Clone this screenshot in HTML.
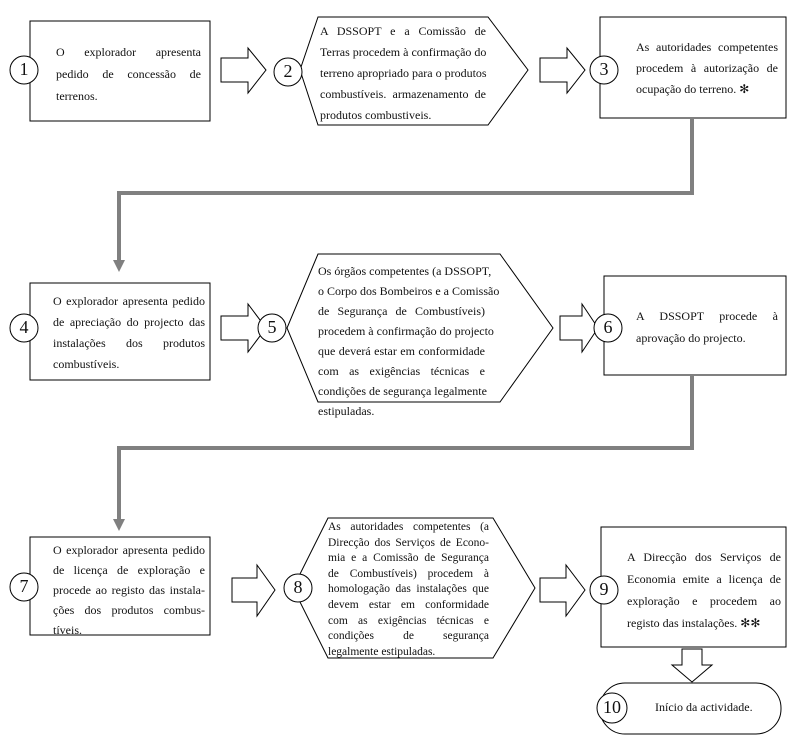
<!DOCTYPE html>
<html><head><meta charset="utf-8"><style>
html,body{margin:0;padding:0;background:#fff;}
body{width:803px;height:738px;position:relative;overflow:hidden;font-family:"Liberation Serif","Times New Roman",Times,serif;font-size:12px;color:#111;}
svg{position:absolute;left:0;top:0;}
.t{position:absolute;}
.t div{white-space:nowrap;text-align:justify;text-align-last:justify;}
.t div.l{text-align-last:left;}
.n{position:absolute;font-size:18px;text-align:center;width:30px;}
</style></head><body>
<svg width="803" height="738" viewBox="0 0 803 738">
<g fill="#fff" stroke="#000" stroke-width="1">
<rect x="30" y="21" width="180" height="100"/>
<polygon points="318,17 488,17 528,70 488,125 318,125 300,70"/>
<rect x="600" y="17" width="186" height="101"/>
<polygon points="221,58 248,58 248,48 266,70 248,93 248,82 221,82"/>
<polygon points="540,58 567,58 567,48 585,70 567,93 567,82 540,82"/>
<rect x="30" y="283" width="180" height="97"/>
<polygon points="318,254 500,254 553,328 500,402 318,402 287,328"/>
<rect x="604" y="276" width="182" height="99"/>
<polygon points="221,316 248,316 248,304 266,328 248,352 248,340 221,340"/>
<polygon points="560,316 582,316 582,304 598,328 582,352 582,340 560,340"/>
<rect x="30" y="537" width="180" height="98"/>
<polygon points="328,518 493,518 535,588 493,658 328,658 293,588"/>
<rect x="601" y="527" width="185" height="120"/>
<polygon points="232,578 257,578 257,565 275,590 257,616 257,602 232,602"/>
<polygon points="540,578 566,578 566,565 585,590 566,616 566,602 540,602"/>
<polygon points="682,649 702,649 702,665 712,665 692,682 672,665 682,665"/>
<rect x="600" y="683" width="181" height="51" rx="25" ry="25"/>
<circle cx="24" cy="70" r="14"/>
<circle cx="288" cy="72" r="14"/>
<circle cx="604" cy="70" r="14"/>
<circle cx="24" cy="328" r="14"/>
<circle cx="272" cy="328" r="14"/>
<circle cx="608" cy="328" r="14"/>
<circle cx="24" cy="587" r="14"/>
<circle cx="298" cy="588" r="14"/>
<circle cx="604" cy="590" r="14"/>
<circle cx="612" cy="708" r="15"/>
</g>
<g fill="none" stroke="#808080" stroke-width="4">
<polyline points="692,118 692,193 119,193 119,262"/>
<polyline points="692,375 692,448 119,448 119,521"/>
</g>
<g fill="#808080">
<polygon points="113,260 125,260 119,272"/>
<polygon points="113,519 125,519 119,531"/>
</g>
</svg>
<div class="n" style="left:9px;top:59px">1</div>
<div class="n" style="left:273px;top:61px">2</div>
<div class="n" style="left:589px;top:59px">3</div>
<div class="n" style="left:9px;top:317px">4</div>
<div class="n" style="left:257px;top:317px">5</div>
<div class="n" style="left:593px;top:317px">6</div>
<div class="n" style="left:9px;top:576px">7</div>
<div class="n" style="left:283px;top:577px">8</div>
<div class="n" style="left:589px;top:579px">9</div>
<div class="n" style="left:597px;top:697px">10</div>

<div class="t" style="left:56px;top:41px;width:145px;line-height:22px">
<div>O explorador apresenta</div><div>pedido de concessão de</div><div class="l">terrenos.</div></div>
<div class="t" style="left:320px;top:21px;width:166px;line-height:21px">
<div>A DSSOPT e a Comissão de</div><div>Terras procedem à confirmação do</div><div>terreno apropriado para o produtos</div><div>combustíveis. armazenamento de</div><div class="l">produtos combustiveis.</div></div>
<div class="t" style="left:636px;top:37px;width:142px;line-height:21px">
<div>As autoridades competentes</div><div>procedem à autorização de</div><div class="l">ocupação do terreno. ✻</div></div>

<div class="t" style="left:53px;top:291px;width:152px;line-height:21px">
<div>O explorador apresenta pedido</div><div>de apreciação do projecto das</div><div>instalações dos produtos</div><div class="l">combustíveis.</div></div>
<div class="t" style="left:318px;top:261px;width:167px;line-height:20px">
<div>Os órgãos competentes (a DSSOPT,</div><div>o Corpo dos Bombeiros e a Comissão</div><div>de Segurança de Combustíveis)</div><div>procedem à confirmação do projecto</div><div>que deverá estar em conformidade</div><div>com as exigências técnicas e</div><div>condições de segurança legalmente</div><div class="l">estipuladas.</div></div>
<div class="t" style="left:636px;top:305px;width:142px;line-height:22px">
<div>A DSSOPT procede à</div><div class="l">aprovação do projecto.</div></div>

<div class="t" style="left:53px;top:540px;width:152px;line-height:20px">
<div>O explorador apresenta pedido</div><div>de licença de exploração e</div><div>procede ao registo das instala-</div><div>ções dos produtos combus-</div><div class="l">tíveis.</div></div>
<div class="t" style="left:328px;top:520px;width:161px;line-height:15.6px;font-size:11.5px">
<div>As autoridades competentes (a</div><div>Direcção dos Serviços de Econo-</div><div>mia e a Comissão de Segurança</div><div>de Combustíveis) procedem à</div><div>homologação das instalações que</div><div>devem estar em conformidade</div><div>com as exigências técnicas e</div><div>condições de segurança</div><div class="l">legalmente estipuladas.</div></div>
<div class="t" style="left:627px;top:546px;width:154px;line-height:22px">
<div>A Direcção dos Serviços de</div><div>Economia emite a licença de</div><div>exploração e procedem ao</div><div class="l">registo das instalações. ✻✻</div></div>
<div class="t" style="left:655px;top:699px;width:120px;line-height:16px"><div class="l">Início da actividade.</div></div>
</body></html>
